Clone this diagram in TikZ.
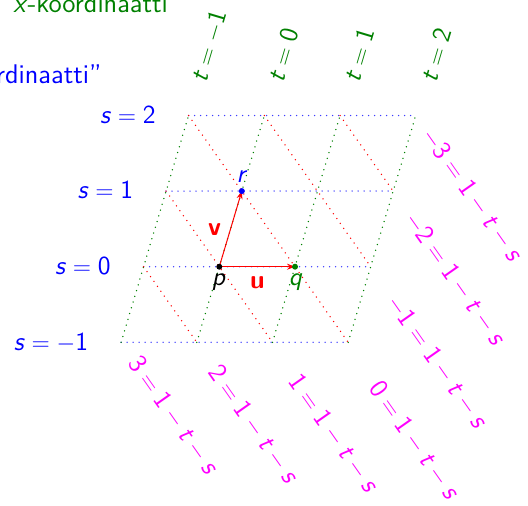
\documentclass[tikz,border=0pt]{standalone}
\usetikzlibrary{arrows.meta}
\definecolor{dgreen}{RGB}{0,128,0}
\definecolor{mag}{RGB}{255,0,255}
\definecolor{lblue}{RGB}{60,60,255}
\newcommand{\vr}[1]{\textit{#1}}
\newcommand{\eqs}{\ensuremath{{}={}}}
\newcommand{\bmi}{\ensuremath{{}-{}}}
\newcommand{\umi}{\ensuremath{-}}
\begin{document}
\begin{tikzpicture}[x=0.5pt,y=0.5pt,
  lbl/.style={font=\fontsize{13}{15.6}\selectfont\sffamily, inner sep=0pt},
  toptext/.style={font=\fontsize{13.5}{16}\selectfont\sffamily, inner sep=0pt},
  eqlbl/.style={font=\fontsize{13.2}{16}\selectfont\sffamily, inner sep=0pt, mag, rotate=-54.9, anchor=base west},
  gridline/.style={line width=0.75pt, line cap=round, dash pattern=on 0pt off 3pt},
  vec/.style={red, line width=0.5pt, -{Stealth[length=4pt,width=3pt]}}]
\useasboundingbox (0,0) rectangle (528,505);
\clip (0,0) rectangle (528,505);
\begin{scope}[shift={(109.65pt,119.15pt)}, x={(37.85pt,0pt)}, y={(11.25pt,37.8pt)}]
  \foreach \ss in {-1,...,2} \draw[gridline,lblue] (-1,\ss) -- (2,\ss);
  \foreach \tt in {-1,...,2} \draw[gridline,dgreen] (\tt,-1) -- (\tt,2);
  \draw[gridline,red] (-1,0) -- (0,-1);
  \draw[gridline,red] (-1,1) -- (1,-1);
  \draw[gridline,red] (-1,2) -- (2,-1);
  \draw[gridline,red] (0,2) -- (2,0);
  \draw[gridline,red] (1,2) -- (2,1);
  \coordinate (p) at (0,0);
  \coordinate (q) at (1,0);
  \coordinate (r) at (0,1);
\end{scope}
\draw[vec] (p) -- (q);
\draw[vec] (p) -- (r);
\fill[black] (p) circle[radius=1.5pt];
\fill[dgreen] (q) circle[radius=1.5pt];
\fill[blue] (r) circle[radius=1.5pt];
% point and vector labels
\node[lbl, black, anchor=base] (lp) at (219,220) {\vr{p}};
\node[lbl, dgreen, anchor=base] (lq) at (295.5,220) {\vr{q}};
\node[lbl, blue, anchor=base] (lr) at (242,323) {\vr{r}};
\node[lbl, red, anchor=base] (lu) at (257.5,217) {\textbf{u}};
\node[lbl, red, anchor=base] (lv) at (214.5,270) {\textbf{v}};
% top texts
\node[toptext, dgreen, anchor=base west] (xk) at (13,493) {\vr{x}-koordinaatti};
\node[toptext, blue, anchor=base east] (yk) at (102,422) {``\vr{y}-koordinaatti''};
% s labels
\node[lbl, blue, anchor=base east] (s2) at (156,382) {\vr{s}\eqs2};
\node[lbl, blue, anchor=base east] (s1) at (133.5,306.3) {\vr{s}\eqs1};
\node[lbl, blue, anchor=base east] (s0) at (111,230.6) {\vr{s}\eqs0};
\node[lbl, blue, anchor=base east] (sm1) at (88.5,155) {\vr{s}\eqs\umi1};
% t labels
\node[lbl, dgreen, rotate=73.4, anchor=base west] (tm1) at (206,421) {\vr{t}\eqs\umi1};
\node[lbl, dgreen, rotate=73.4, anchor=base west] (t0) at (283,421) {\vr{t}\eqs0};
\node[lbl, dgreen, rotate=73.4, anchor=base west] (t1) at (359.5,421) {\vr{t}\eqs1};
\node[lbl, dgreen, rotate=73.4, anchor=base west] (t2) at (436,421) {\vr{t}\eqs2};
% 1-t-s labels
\node[eqlbl] (km3) at (421,370) {\umi3\eqs1\bmi\vr{t}\bmi\vr{s}};
\node[eqlbl] (km2) at (404,286) {\umi2\eqs1\bmi\vr{t}\bmi\vr{s}};
\node[eqlbl] (km1) at (386,203) {\umi1\eqs1\bmi\vr{t}\bmi\vr{s}};
\node[eqlbl] (k0) at (368,117) {0\eqs1\bmi\vr{t}\bmi\vr{s}};
\node[eqlbl] (k1) at (287,124) {1\eqs1\bmi\vr{t}\bmi\vr{s}};
\node[eqlbl] (k2) at (207,133) {2\eqs1\bmi\vr{t}\bmi\vr{s}};
\node[eqlbl] (k3) at (127,142) {3\eqs1\bmi\vr{t}\bmi\vr{s}};
\end{tikzpicture}
\end{document}
